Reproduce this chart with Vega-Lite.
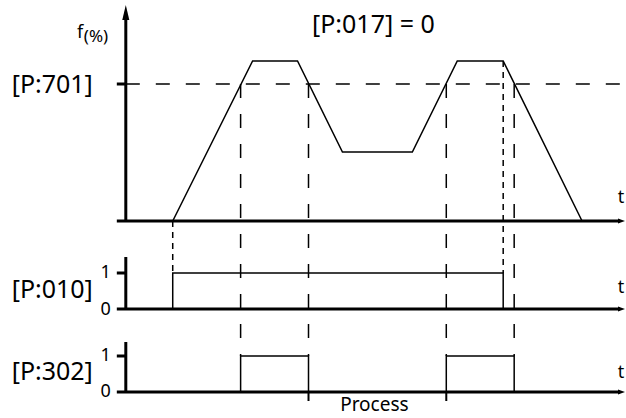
{
  "$schema": "https://vega.github.io/schema/vega-lite/v6.json",
  "width": 626,
  "height": 418,
  "padding": 0,
  "autosize": {"type": "fit", "contains": "padding"},
  "config": {"view": {"stroke": null}, "font": "Noto Sans"},
  "datasets": {
    "axes": [
      {"x": 126, "y": 221, "x2": 126, "y2": 18},
      {"x": 117, "y": 221, "x2": 621, "y2": 221},
      {"x": 126, "y": 309, "x2": 126, "y2": 257},
      {"x": 117, "y": 309, "x2": 621, "y2": 309},
      {"x": 126, "y": 392, "x2": 126, "y2": 342},
      {"x": 117, "y": 392, "x2": 621, "y2": 392},
      {"x": 117, "y": 84, "x2": 126, "y2": 84},
      {"x": 117, "y": 273, "x2": 126, "y2": 273},
      {"x": 117, "y": 356, "x2": 126, "y2": 356}
    ],
    "ticks": [
      {"x": 309, "y": 392, "x2": 309, "y2": 401},
      {"x": 447, "y": 392, "x2": 447, "y2": 401}
    ],
    "profile": [
      {"o": 1, "x": 173, "y": 221},
      {"o": 2, "x": 253, "y": 61},
      {"o": 3, "x": 298, "y": 61},
      {"o": 4, "x": 343, "y": 152},
      {"o": 5, "x": 413, "y": 152},
      {"o": 6, "x": 458, "y": 61},
      {"o": 7, "x": 504, "y": 61},
      {"o": 8, "x": 583, "y": 221}
    ],
    "signals": [
      {"s": "P010", "o": 1, "x": 173, "y": 309},
      {"s": "P010", "o": 2, "x": 173, "y": 273},
      {"s": "P010", "o": 3, "x": 504, "y": 273},
      {"s": "P010", "o": 4, "x": 504, "y": 309},
      {"s": "P302a", "o": 1, "x": 241, "y": 392},
      {"s": "P302a", "o": 2, "x": 241, "y": 356},
      {"s": "P302a", "o": 3, "x": 309, "y": 356},
      {"s": "P302a", "o": 4, "x": 309, "y": 392},
      {"s": "P302b", "o": 1, "x": 447, "y": 392},
      {"s": "P302b", "o": 2, "x": 447, "y": 356},
      {"s": "P302b", "o": 3, "x": 515, "y": 356},
      {"s": "P302b", "o": 4, "x": 515, "y": 392}
    ],
    "dashLong": [
      {"x": 126, "y": 84, "x2": 626, "y2": 84},
      {"x": 241, "y": 84, "x2": 241, "y2": 356},
      {"x": 309, "y": 84, "x2": 309, "y2": 356},
      {"x": 447, "y": 84, "x2": 447, "y2": 356},
      {"x": 515, "y": 84, "x2": 515, "y2": 356}
    ],
    "dashFine": [
      {"x": 173, "y": 221, "x2": 173, "y2": 273},
      {"x": 504, "y": 61, "x2": 504, "y2": 273}
    ],
    "arrowUp": [{"x": 126, "y": 12.5}],
    "arrowRight": [
      {"x": 622.5, "y": 221},
      {"x": 622.5, "y": 309},
      {"x": 622.5, "y": 392}
    ],
    "bigRight": [
      {"x": 93, "y": 85, "label": "[P:701]"},
      {"x": 93, "y": 290, "label": "[P:010]"},
      {"x": 93, "y": 372, "label": "[P:302]"}
    ],
    "title": [{"x": 374, "y": 25, "label": "[P:017] = 0"}],
    "digits": [
      {"x": 111, "y": 273, "label": "1"},
      {"x": 111, "y": 310, "label": "0"},
      {"x": 111, "y": 356, "label": "1"},
      {"x": 111, "y": 392, "label": "0"}
    ],
    "tlabels": [
      {"x": 622, "y": 198, "label": "t"},
      {"x": 622, "y": 288, "label": "t"},
      {"x": 622, "y": 373, "label": "t"}
    ],
    "process": [{"x": 375, "y": 405, "label": "Process"}],
    "fmain": [{"x": 77, "y": 38, "label": "f"}],
    "fsub": [{"x": 84, "y": 42, "label": "(%)"}]
  },
  "layer": [
    {
      "data": {"name": "dashLong"},
      "mark": {"type": "rule", "strokeWidth": 1.5, "strokeDash": [14, 16], "color": "black"},
      "encoding": {
        "x": {"field": "x", "type": "quantitative", "scale": {"domain": [0, 626], "nice": false, "zero": false}, "axis": null},
        "y": {"field": "y", "type": "quantitative", "scale": {"domain": [0, 418], "nice": false, "zero": false, "reverse": true}, "axis": null},
        "x2": {"field": "x2"},
        "y2": {"field": "y2"}
      }
    },
    {
      "data": {"name": "dashFine"},
      "mark": {"type": "rule", "strokeWidth": 1.5, "strokeDash": [6, 5], "color": "black"},
      "encoding": {
        "x": {"field": "x", "type": "quantitative", "axis": null},
        "y": {"field": "y", "type": "quantitative", "axis": null},
        "x2": {"field": "x2"},
        "y2": {"field": "y2"}
      }
    },
    {
      "data": {"name": "profile"},
      "mark": {"type": "line", "strokeWidth": 1.5, "color": "black"},
      "encoding": {
        "x": {"field": "x", "type": "quantitative", "axis": null},
        "y": {"field": "y", "type": "quantitative", "axis": null},
        "order": {"field": "o"}
      }
    },
    {
      "data": {"name": "signals"},
      "mark": {"type": "line", "strokeWidth": 1.5, "color": "black"},
      "encoding": {
        "x": {"field": "x", "type": "quantitative", "axis": null},
        "y": {"field": "y", "type": "quantitative", "axis": null},
        "detail": {"field": "s"},
        "order": {"field": "o"}
      }
    },
    {
      "data": {"name": "axes"},
      "mark": {"type": "rule", "strokeWidth": 3, "color": "black"},
      "encoding": {
        "x": {"field": "x", "type": "quantitative", "axis": null},
        "y": {"field": "y", "type": "quantitative", "axis": null},
        "x2": {"field": "x2"},
        "y2": {"field": "y2"}
      }
    },
    {
      "data": {"name": "ticks"},
      "mark": {"type": "rule", "strokeWidth": 2, "color": "black"},
      "encoding": {
        "x": {"field": "x", "type": "quantitative", "axis": null},
        "y": {"field": "y", "type": "quantitative", "axis": null},
        "x2": {"field": "x2"},
        "y2": {"field": "y2"}
      }
    },
    {
      "data": {"name": "arrowUp"},
      "mark": {"type": "point", "shape": "M0,-1L0.47,1L-0.47,1Z", "size": 225, "filled": true, "color": "black", "opacity": 1, "strokeWidth": 0},
      "encoding": {
        "x": {"field": "x", "type": "quantitative", "axis": null},
        "y": {"field": "y", "type": "quantitative", "axis": null}
      }
    },
    {
      "data": {"name": "arrowRight"},
      "mark": {"type": "point", "shape": "M1,0L-1,-0.7L-1,0.7Z", "size": 49, "filled": true, "color": "black", "opacity": 1, "strokeWidth": 0},
      "encoding": {
        "x": {"field": "x", "type": "quantitative", "axis": null},
        "y": {"field": "y", "type": "quantitative", "axis": null}
      }
    },
    {
      "data": {"name": "bigRight"},
      "mark": {"type": "text", "align": "right", "baseline": "middle", "fontSize": 25, "color": "black"},
      "encoding": {
        "x": {"field": "x", "type": "quantitative", "axis": null},
        "y": {"field": "y", "type": "quantitative", "axis": null},
        "text": {"field": "label"}
      }
    },
    {
      "data": {"name": "title"},
      "mark": {"type": "text", "align": "center", "baseline": "middle", "fontSize": 25, "color": "black"},
      "encoding": {
        "x": {"field": "x", "type": "quantitative", "axis": null},
        "y": {"field": "y", "type": "quantitative", "axis": null},
        "text": {"field": "label"}
      }
    },
    {
      "data": {"name": "digits"},
      "mark": {"type": "text", "align": "right", "baseline": "middle", "fontSize": 18, "color": "black"},
      "encoding": {
        "x": {"field": "x", "type": "quantitative", "axis": null},
        "y": {"field": "y", "type": "quantitative", "axis": null},
        "text": {"field": "label"}
      }
    },
    {
      "data": {"name": "tlabels"},
      "mark": {"type": "text", "align": "center", "baseline": "middle", "fontSize": 18, "color": "black"},
      "encoding": {
        "x": {"field": "x", "type": "quantitative", "axis": null},
        "y": {"field": "y", "type": "quantitative", "axis": null},
        "text": {"field": "label"}
      }
    },
    {
      "data": {"name": "process"},
      "mark": {"type": "text", "align": "center", "baseline": "middle", "fontSize": 19, "color": "black"},
      "encoding": {
        "x": {"field": "x", "type": "quantitative", "axis": null},
        "y": {"field": "y", "type": "quantitative", "axis": null},
        "text": {"field": "label"}
      }
    },
    {
      "data": {"name": "fmain"},
      "mark": {"type": "text", "align": "left", "baseline": "alphabetic", "fontSize": 18, "color": "black"},
      "encoding": {
        "x": {"field": "x", "type": "quantitative", "axis": null},
        "y": {"field": "y", "type": "quantitative", "axis": null},
        "text": {"field": "label"}
      }
    },
    {
      "data": {"name": "fsub"},
      "mark": {"type": "text", "align": "left", "baseline": "alphabetic", "fontSize": 17, "color": "black"},
      "encoding": {
        "x": {"field": "x", "type": "quantitative", "axis": null},
        "y": {"field": "y", "type": "quantitative", "axis": null},
        "text": {"field": "label"}
      }
    }
  ]
}
